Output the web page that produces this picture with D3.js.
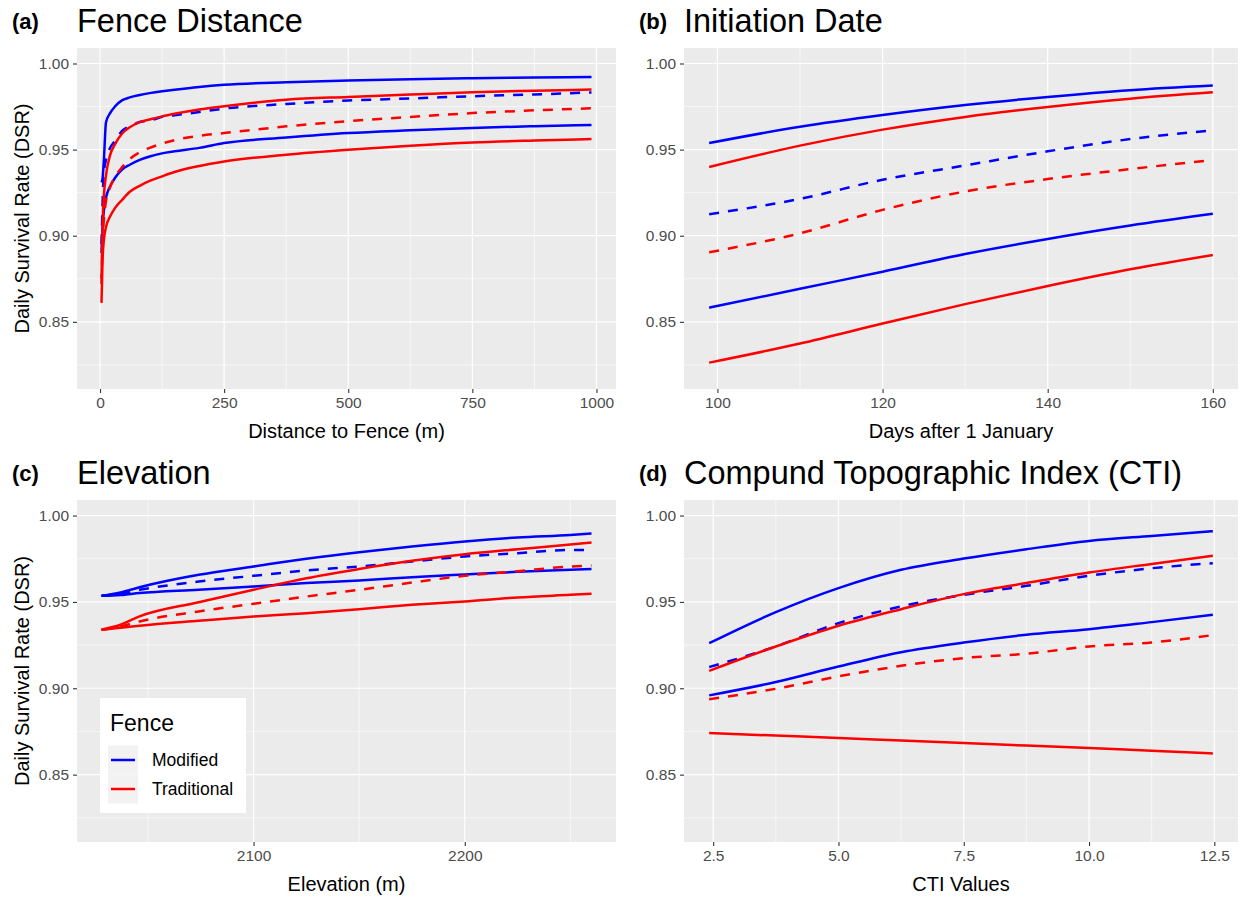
<!DOCTYPE html>
<html><head><meta charset="utf-8">
<script src="https://cdn.jsdelivr.net/npm/d3@7"></script>
<style>
body{margin:0;background:#fff}
svg text{font-family:"Liberation Sans",Arial,sans-serif}
</style>
</head><body>
<svg id="chart" width="1243" height="901"></svg>
<script>
// ---------- data ----------
const yLimits = [0.82, 1.00];
const yTicks = [0.85, 0.90, 0.95, 1.00];

const fenceX = [3, 5, 8, 12, 20, 30, 45, 60, 80, 100, 125, 150, 200, 250, 375, 500, 625, 750, 875, 990];
const fenceModUpper = [0.931, 0.933, 0.945, 0.9658, 0.971, 0.975, 0.9787, 0.9803, 0.9817, 0.9828, 0.9839, 0.9848, 0.9864, 0.9876, 0.9891, 0.9901, 0.9909, 0.9915, 0.9919, 0.9922];
const fenceModEst = [0.895, 0.918, 0.937, 0.944, 0.9508, 0.955, 0.961, 0.9635, 0.966, 0.9668, 0.969, 0.970, 0.9718, 0.9738, 0.9765, 0.9785, 0.9797, 0.981, 0.982, 0.9832];
const fenceModLower = [0.89, 0.905, 0.915, 0.922, 0.9285, 0.9335, 0.9385, 0.9412, 0.944, 0.946, 0.9478, 0.949, 0.951, 0.9538, 0.957, 0.9596, 0.9612, 0.9626, 0.9636, 0.9643];
const fenceTradUpper = [0.875, 0.905, 0.924, 0.935, 0.9465, 0.953, 0.9595, 0.963, 0.966, 0.9675, 0.9693, 0.9708, 0.9733, 0.9752, 0.979, 0.9806, 0.982, 0.9833, 0.9842, 0.9849];
const fenceTradEst = [0.872, 0.895, 0.91, 0.92, 0.928, 0.934, 0.94, 0.9445, 0.9485, 0.951, 0.9535, 0.9555, 0.958, 0.9596, 0.9635, 0.9665, 0.969, 0.9712, 0.9728, 0.974];
const fenceTradLower = [0.861, 0.885, 0.898, 0.905, 0.911, 0.916, 0.921, 0.9255, 0.929, 0.9318, 0.9345, 0.937, 0.9405, 0.9431, 0.947, 0.9499, 0.9523, 0.9542, 0.9553, 0.9561];
const fenceTicks = [0, 250, 500, 750, 1000];

const dateX = [99, 110, 120, 130, 140, 150, 160];
const dateModUpper = [0.9538, 0.9633, 0.9701, 0.9759, 0.9806, 0.9845, 0.9872];
const dateModEst = [0.9125, 0.9214, 0.9325, 0.9408, 0.949, 0.9561, 0.9612];
const dateModLower = [0.8582, 0.8692, 0.8791, 0.8894, 0.8981, 0.9059, 0.9127];
const dateTradUpper = [0.9399, 0.9523, 0.9616, 0.969, 0.9748, 0.9796, 0.9833];
const dateTradEst = [0.8904, 0.9014, 0.915, 0.9257, 0.9329, 0.9387, 0.944];
const dateTradLower = [0.8263, 0.8374, 0.849, 0.8603, 0.8708, 0.8805, 0.8888];
const dateTicks = [100, 120, 140, 160];

const elevX = [2028, 2037, 2046, 2074, 2100, 2125, 2150, 2175, 2200, 2225, 2250, 2260];
const elevModUpper = [0.9535, 0.9555, 0.9585, 0.9657, 0.9705, 0.975, 0.9788, 0.9821, 0.985, 0.9873, 0.9888, 0.9896];
const elevModEst = [0.9535, 0.9548, 0.957, 0.9618, 0.9651, 0.9682, 0.9705, 0.9734, 0.9763, 0.9782, 0.9801, 0.9801];
const elevModLower = [0.9535, 0.954, 0.9551, 0.957, 0.9589, 0.9609, 0.9624, 0.9643, 0.9659, 0.9674, 0.9686, 0.969];
const elevTradUpper = [0.9339, 0.9368, 0.9416, 0.9498, 0.957, 0.9637, 0.9691, 0.9738, 0.9776, 0.9805, 0.9832, 0.9844];
const elevTradEst = [0.9339, 0.9358, 0.9387, 0.9445, 0.9489, 0.9531, 0.957, 0.9612, 0.9651, 0.9678, 0.9705, 0.9711];
const elevTradLower = [0.9339, 0.935, 0.9362, 0.9391, 0.9416, 0.9435, 0.9458, 0.9483, 0.9503, 0.9526, 0.9541, 0.9547];
const elevTicks = [2100, 2200];

const ctiX = [2.42, 3.75, 5.0, 6.25, 7.5, 8.75, 10.0, 11.25, 12.47];
const ctiModUpper = [0.9261, 0.9441, 0.958, 0.9686, 0.9751, 0.9805, 0.9853, 0.9882, 0.9909];
const ctiModEst = [0.9123, 0.9242, 0.9377, 0.9474, 0.9541, 0.9593, 0.9651, 0.9695, 0.9724];
const ctiModLower = [0.8959, 0.9036, 0.9126, 0.9209, 0.9265, 0.931, 0.9342, 0.9383, 0.9425];
const ctiTradUpper = [0.9101, 0.9242, 0.9362, 0.9458, 0.9545, 0.9609, 0.967, 0.972, 0.9767];
const ctiTradEst = [0.8937, 0.8997, 0.9069, 0.913, 0.9175, 0.92, 0.9242, 0.9265, 0.9308];
const ctiTradLower = [0.8741, 0.8726, 0.8712, 0.8697, 0.8683, 0.8668, 0.8654, 0.8638, 0.8623];
const ctiTicks = [2.5, 5.0, 7.5, 10.0, 12.5];

const panelLabels = ["(a)", "(b)", "(c)", "(d)"];
const panelTitles = ["Fence Distance", "Initiation Date", "Elevation", "Compund Topographic Index (CTI)"];
const xTitles = ["Distance to Fence (m)", "Days after 1 January", "Elevation (m)", "CTI Values"];
const yTitle = "Daily Survival Rate (DSR)";
const legendTitle = "Fence";
const groups = ["Modified", "Traditional"];

// ---------- rendering ----------
const colors = {Modified: "#0000FF", Traditional: "#FF0000"};
const svg = d3.select("#chart");
svg.append("rect").attr("width", 1243).attr("height", 901).attr("fill", "#fff");

const layout = [
  {l: 77, r: 616, t: 48, b: 389, labelX: 12},
  {l: 684, r: 1238, t: 48, b: 389, labelX: 639},
  {l: 77, r: 616, t: 500, b: 842, labelX: 12},
  {l: 684, r: 1238, t: 500, b: 842, labelX: 639}
];

const panels = [
  {x: fenceX, ticks: fenceTicks, fmt: d3.format("d"), minor: [125, 375, 625, 875],
   s: [fenceModUpper, fenceModEst, fenceModLower, fenceTradUpper, fenceTradEst, fenceTradLower]},
  {x: dateX, ticks: dateTicks, fmt: d3.format("d"), minor: [110, 130, 150],
   s: [dateModUpper, dateModEst, dateModLower, dateTradUpper, dateTradEst, dateTradLower]},
  {x: elevX, ticks: elevTicks, fmt: d3.format("d"), minor: [2050, 2150, 2250],
   s: [elevModUpper, elevModEst, elevModLower, elevTradUpper, elevTradEst, elevTradLower]},
  {x: ctiX, ticks: ctiTicks, fmt: d3.format(".1f"), minor: [3.75, 6.25, 8.75, 11.25],
   s: [ctiModUpper, ctiModEst, ctiModLower, ctiTradUpper, ctiTradEst, ctiTradLower]}
];
const seriesGroup = ["Modified", "Modified", "Modified", "Traditional", "Traditional", "Traditional"];
const seriesDashed = [false, true, false, false, true, false];

function expand(ext) { const d = (ext[1] - ext[0]) * 0.05; return [ext[0] - d, ext[1] + d]; }
const yMinor = [0.825, 0.875, 0.925, 0.975];

panels.forEach((p, i) => {
  const L = layout[i];
  const x = d3.scaleLinear().domain(expand(d3.extent(p.x))).range([L.l, L.r]);
  const y = d3.scaleLinear().domain(expand(yLimits)).range([L.b, L.t]);
  const g = svg.append("g");

  g.append("rect").attr("x", L.l).attr("y", L.t).attr("width", L.r - L.l).attr("height", L.b - L.t).attr("fill", "#EBEBEB");
  // minor grid
  g.selectAll(".mx").data(p.minor).join("line").attr("x1", d => x(d)).attr("x2", d => x(d))
    .attr("y1", L.t).attr("y2", L.b).attr("stroke", "#fff").attr("stroke-width", 0.6);
  g.selectAll(".my").data(yMinor).join("line").attr("y1", d => y(d)).attr("y2", d => y(d))
    .attr("x1", L.l).attr("x2", L.r).attr("stroke", "#fff").attr("stroke-width", 0.6);
  // major grid
  g.selectAll(".Mx").data(p.ticks).join("line").attr("x1", d => x(d)).attr("x2", d => x(d))
    .attr("y1", L.t).attr("y2", L.b).attr("stroke", "#fff").attr("stroke-width", 1.2);
  g.selectAll(".My").data(yTicks).join("line").attr("y1", d => y(d)).attr("y2", d => y(d))
    .attr("x1", L.l).attr("x2", L.r).attr("stroke", "#fff").attr("stroke-width", 1.2);

  // axes
  const xa = g.append("g").attr("transform", `translate(0,${L.b})`)
    .call(d3.axisBottom(x).tickValues(p.ticks).tickFormat(p.fmt).tickSize(4).tickPadding(4));
  const ya = g.append("g").attr("transform", `translate(${L.l},0)`)
    .call(d3.axisLeft(y).tickValues(yTicks).tickFormat(d3.format(".2f")).tickSize(4).tickPadding(4));
  [xa, ya].forEach(a => {
    a.select(".domain").remove();
    a.selectAll(".tick line").attr("stroke", "#333333").attr("stroke-width", 1.1);
    a.selectAll(".tick text").attr("fill", "#4D4D4D").style("font-size", "15.5px");
  });

  // lines
  const clip = "clip" + i;
  svg.append("clipPath").attr("id", clip).append("rect").attr("x", L.l).attr("y", L.t)
    .attr("width", L.r - L.l).attr("height", L.b - L.t);
  const line = d3.line().curve(d3.curveMonotoneX);
  p.s.forEach((vals, k) => {
    g.append("path")
      .attr("d", line(vals.map((v, j) => [x(p.x[j]), y(v)])))
      .attr("fill", "none").attr("stroke", colors[seriesGroup[k]]).attr("stroke-width", 2.5)
      .attr("stroke-dasharray", seriesDashed[k] ? "10,9" : null)
      .attr("clip-path", `url(#${clip})`);
  });

  // titles
  g.append("text").attr("x", L.labelX).attr("y", L.t - 19).text(panelLabels[i])
    .style("font-size", "22px").style("font-weight", "bold").attr("fill", "#000");
  g.append("text").attr("x", L.l).attr("y", L.t - 16).text(panelTitles[i])
    .style("font-size", "32.5px").attr("fill", "#000");
  g.append("text").attr("x", (L.l + L.r) / 2).attr("y", L.b + 49).attr("text-anchor", "middle")
    .text(xTitles[i]).style("font-size", "20px").attr("fill", "#000");
  if (i % 2 === 0) {
    g.append("text").attr("transform", `translate(29,${(L.t + L.b) / 2}) rotate(-90)`)
      .attr("text-anchor", "middle").text(yTitle).style("font-size", "20px").attr("fill", "#000");
  }
});

// legend in panel (c)
const lg = svg.append("g");
lg.append("rect").attr("x", 100).attr("y", 698).attr("width", 146).attr("height", 115).attr("fill", "#fff");
lg.append("text").attr("x", 110).attr("y", 731).text(legendTitle).style("font-size", "23px").attr("fill", "#000");
groups.forEach((gname, k) => {
  const cy = 760 + k * 29;
  lg.append("rect").attr("x", 108).attr("y", cy - 14.5).attr("width", 30).attr("height", 29).attr("fill", "#F2F2F2");
  lg.append("line").attr("x1", 111).attr("x2", 135).attr("y1", cy).attr("y2", cy)
    .attr("stroke", colors[gname]).attr("stroke-width", 2.5);
  lg.append("text").attr("x", 152).attr("y", cy).attr("dy", "0.35em").text(gname)
    .style("font-size", "17.5px").attr("fill", "#000");
});
</script>
</body></html>
